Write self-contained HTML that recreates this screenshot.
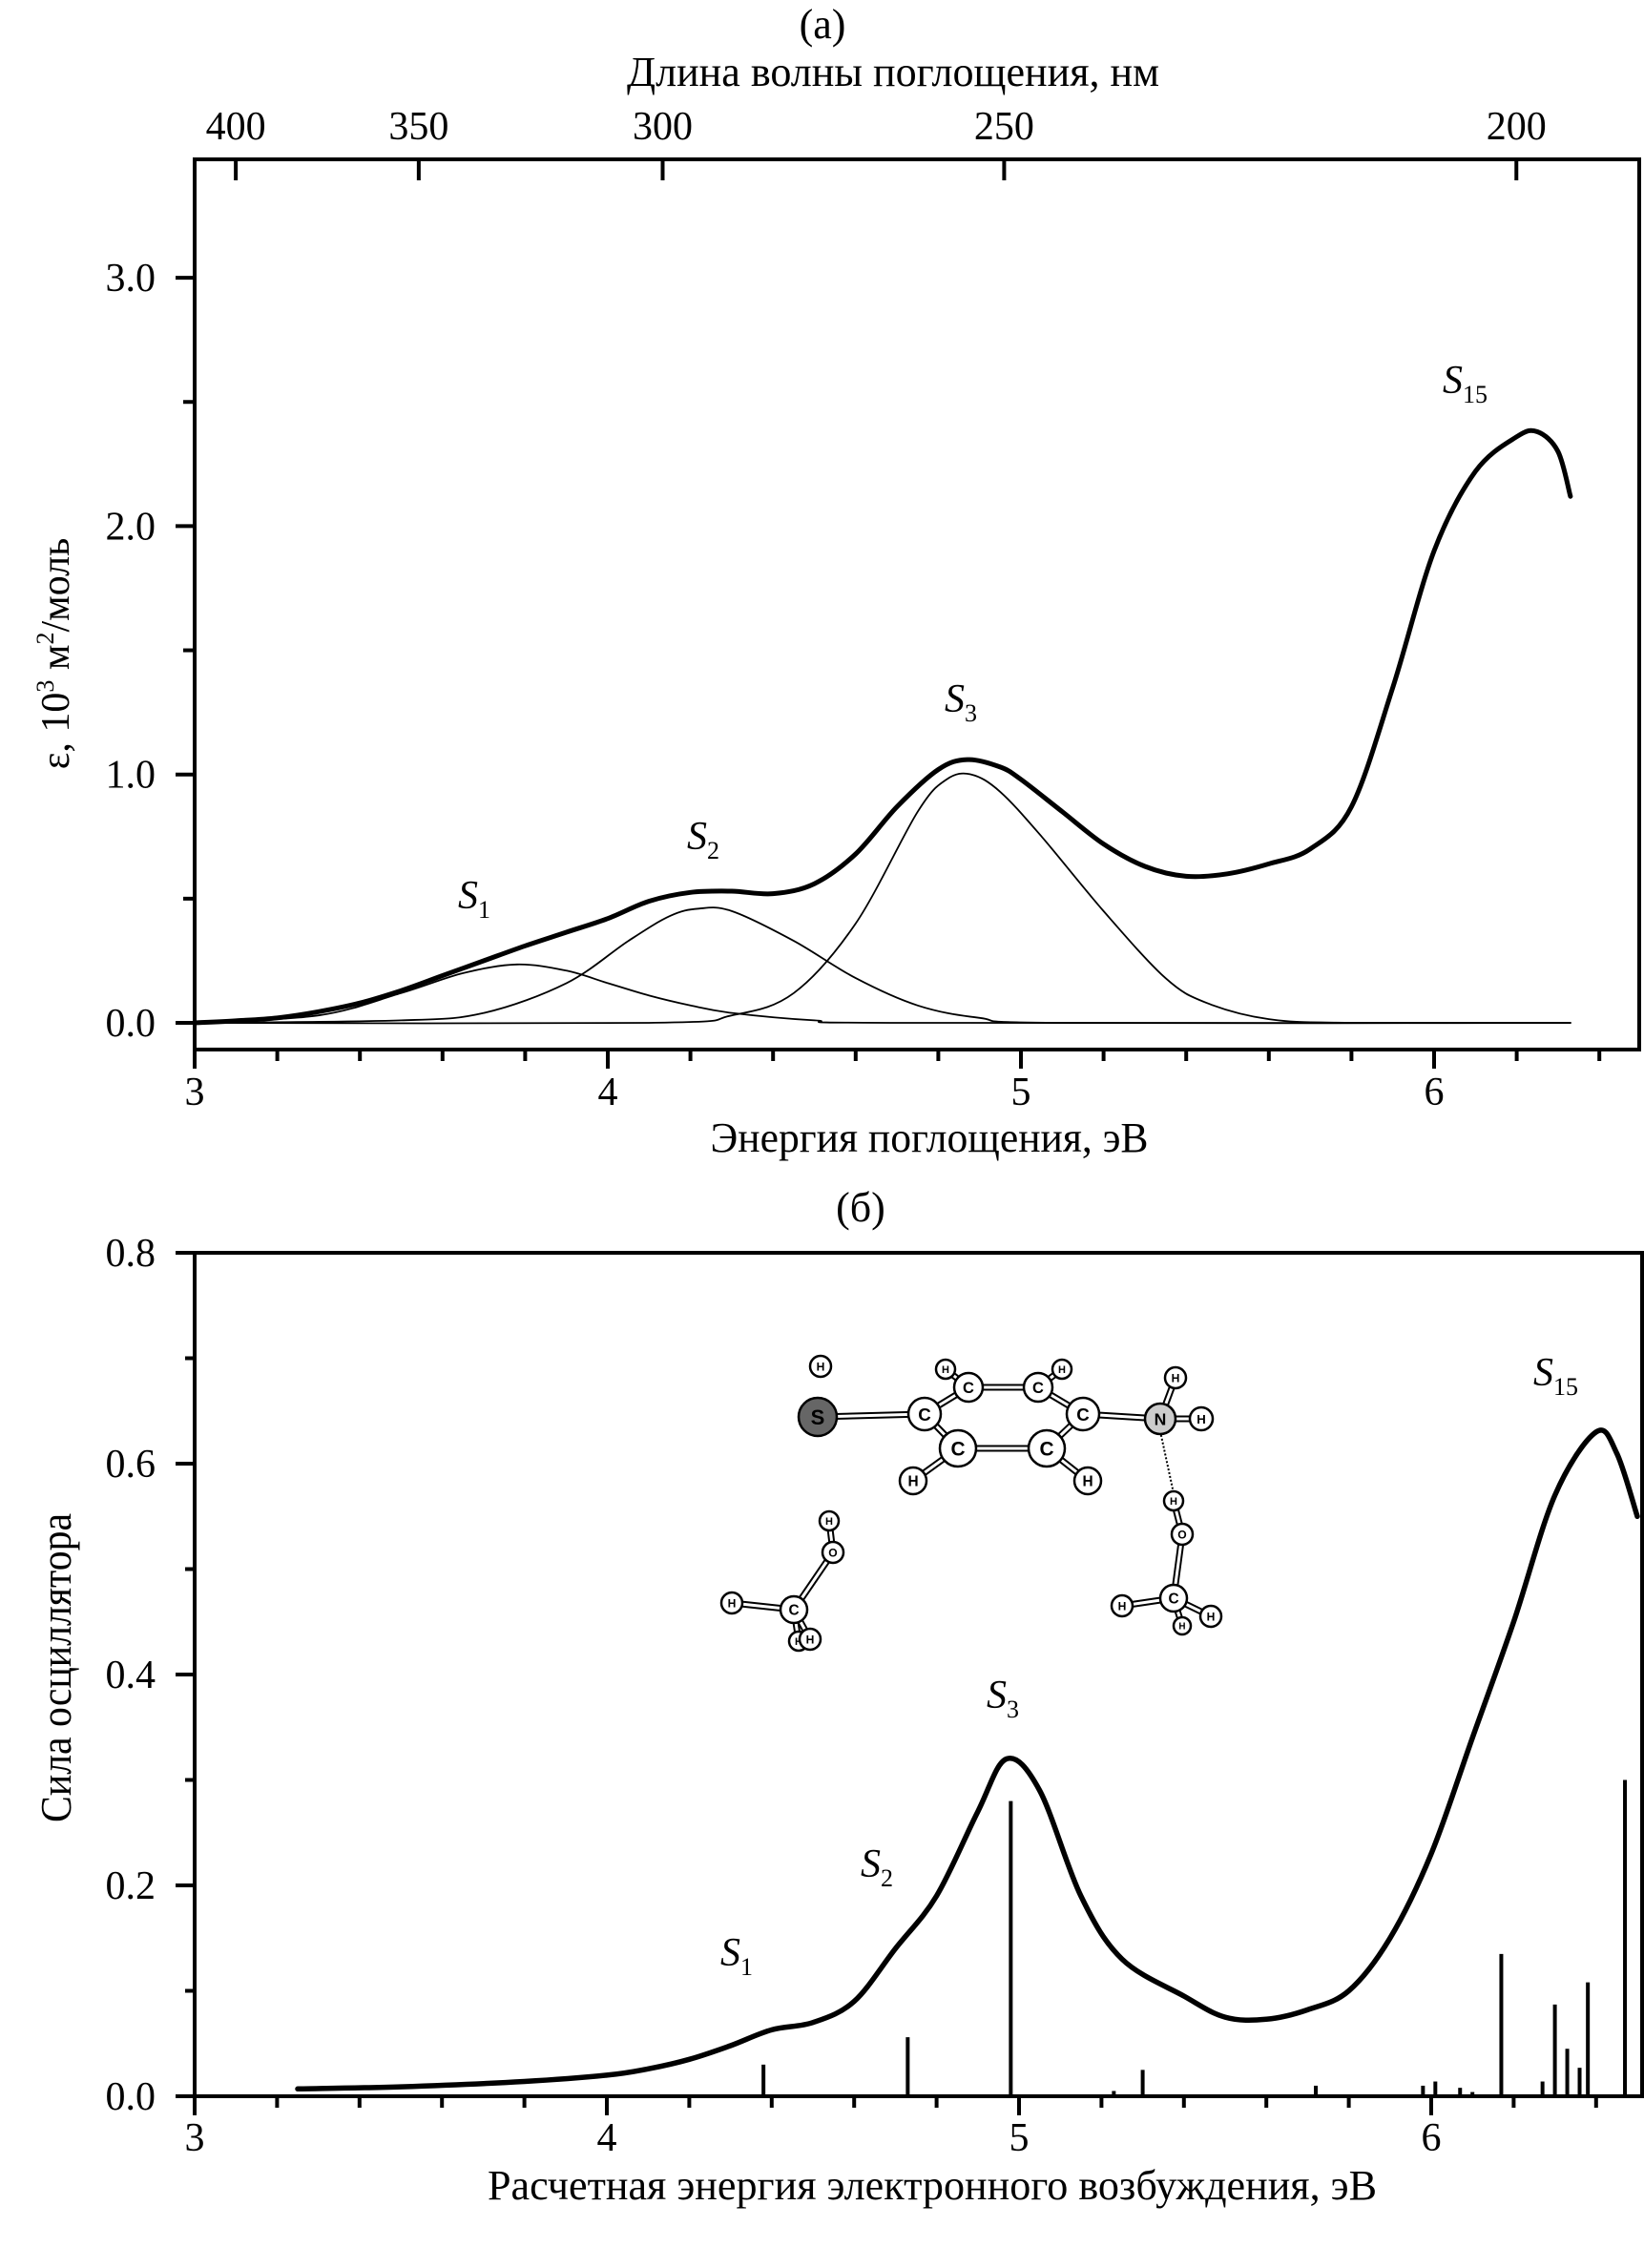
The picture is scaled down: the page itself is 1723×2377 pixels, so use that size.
<!DOCTYPE html>
<html><head><meta charset="utf-8">
<style>
html,body{margin:0;padding:0;background:#fff;}
svg{display:block;font-family:"Liberation Serif",serif;}
</style></head>
<body>
<svg id="fig" width="1723" height="2377" viewBox="0 0 1723 2377" xmlns="http://www.w3.org/2000/svg">
<g id="topChart"></g>
<g id="botChart"></g>
<g id="mol"></g>
</svg>
<script>
// ---- top chart data ----
const topXTicks = [3, 4, 5, 6];
const topYTicks = [0.0, 1.0, 2.0, 3.0];
const topYTickLabels = ["0.0", "1.0", "2.0", "3.0"];
const topWaveTicks = [400, 350, 300, 250, 200];
const totalE = [3.0,3.1,3.2,3.3,3.4,3.5,3.6,3.7,3.8,3.9,4.0,4.1,4.2,4.3,4.4,4.5,4.6,4.7,4.8,4.87,4.95,5.0,5.1,5.2,5.3,5.4,5.5,5.6,5.7,5.8,5.9,6.0,6.1,6.2,6.25,6.3,6.33];
const totalEps = [0.0,0.008,0.02,0.045,0.08,0.13,0.19,0.25,0.31,0.365,0.42,0.49,0.525,0.53,0.52,0.56,0.68,0.87,1.02,1.06,1.03,0.98,0.85,0.72,0.63,0.59,0.60,0.64,0.70,0.87,1.35,1.90,2.22,2.36,2.38,2.30,2.12];
const s1E = [3.0,3.3,3.5,3.65,3.78,3.9,4.0,4.1,4.2,4.3,4.5,4.7,6.33];
const s1Eps = [0,0.03,0.12,0.20,0.235,0.21,0.16,0.11,0.07,0.04,0.01,0,0];
const s2E = [3.0,3.5,3.7,3.9,4.05,4.15,4.22,4.3,4.45,4.6,4.75,4.9,5.1,6.33];
const s2Eps = [0,0.01,0.04,0.16,0.33,0.43,0.46,0.45,0.33,0.18,0.07,0.02,0,0];
const s3E = [3.0,4.1,4.3,4.45,4.6,4.75,4.82,4.88,4.95,5.05,5.2,5.35,5.45,5.6,5.8,6.33];
const s3Eps = [0,0,0.03,0.12,0.40,0.85,0.98,1.0,0.93,0.75,0.45,0.18,0.08,0.015,0,0];
// ---- bottom chart data ----
const botXTicks = [3, 4, 5, 6];
const botYTicks = [0.0, 0.2, 0.4, 0.6, 0.8];
const botYTickLabels = ["0.0", "0.2", "0.4", "0.6", "0.8"];
const specE = [3.25,3.5,3.8,4.0,4.1,4.2,4.3,4.4,4.5,4.6,4.7,4.8,4.9,4.97,5.05,5.15,5.25,5.4,5.5,5.6,5.7,5.8,5.9,6.0,6.1,6.2,6.3,6.4,6.45,6.5];
const specF = [0.007,0.009,0.014,0.02,0.026,0.035,0.048,0.063,0.07,0.09,0.14,0.19,0.27,0.32,0.29,0.19,0.13,0.095,0.075,0.073,0.082,0.10,0.15,0.23,0.34,0.45,0.57,0.63,0.61,0.55];
const stickE = [4.38,4.73,4.98,5.23,5.3,5.72,5.98,6.01,6.07,6.1,6.17,6.27,6.3,6.33,6.36,6.38,6.47];
const stickF = [0.03,0.056,0.28,0.005,0.025,0.01,0.01,0.014,0.008,0.004,0.135,0.014,0.087,0.045,0.027,0.108,0.30];

const NS = "http://www.w3.org/2000/svg";
function mk(parent, tag, attrs, txt){const e=document.createElementNS(NS,tag);for(const k in attrs)e.setAttribute(k,attrs[k]);if(txt!==undefined)e.textContent=txt;parent.appendChild(e);return e;}

const tx = e => 204 + (e-3)*433;
const ty = v => 1072 - v*260.3;
const bx = e => 204 + (e-3)*432;
const by = v => 2197 - v*1105;

const topG = document.getElementById('topChart');
const botG = document.getElementById('botChart');
const FS = 42;

// ---- top frame ----
let fr = mk(topG,'rect',{x:204,y:167,width:1514,height:933,fill:'none',stroke:'#000','stroke-width':4});


for(let e=3;e<=6.41;e+=0.2){
  const major = Math.abs(e-Math.round(e))<1e-6;
  let t=mk(topG,'line',{x1:tx(e),x2:tx(e),y1:1100,y2:1100+(major?20:12),stroke:'#000','stroke-width':4});
  
  
}
topXTicks.forEach(v=>{
  let t=mk(topG,'text',{x:tx(v),y:1158,'font-size':FS,'text-anchor':'middle'},String(v));
  
  
});
for(let v=0;v<=3.01;v+=0.5){
  const major = Math.abs(v-Math.round(v))<1e-6;
  let t=mk(topG,'line',{x1:204-(major?20:12),x2:204,y1:ty(v),y2:ty(v),stroke:'#000','stroke-width':4});
  
  
}
topYTicks.forEach((v,i)=>{
  let t=mk(topG,'text',{x:163,y:ty(v)+14,'font-size':FS,'text-anchor':'end'},topYTickLabels[i]);
  
  
});
topWaveTicks.forEach(w=>{
  const e = 1239.84/w;
  let t=mk(topG,'line',{x1:tx(e),x2:tx(e),y1:167,y2:189,stroke:'#000','stroke-width':4});
  
  
  let l=mk(topG,'text',{x:tx(e),y:146,'font-size':FS,'text-anchor':'middle'},String(w));
  
  
});
function smoothPath(pts){
  let d='M'+pts[0][0].toFixed(1)+','+pts[0][1].toFixed(1);
  for(let i=0;i<pts.length-1;i++){
    const p0=pts[i-1]||pts[i],p1=pts[i],p2=pts[i+1],p3=pts[i+2]||p2;
    const c1x=p1[0]+(p2[0]-p0[0])/6,c1y=p1[1]+(p2[1]-p0[1])/6;
    const c2x=p2[0]-(p3[0]-p1[0])/6,c2y=p2[1]-(p3[1]-p1[1])/6;
    d+=' C'+c1x.toFixed(1)+','+c1y.toFixed(1)+' '+c2x.toFixed(1)+','+c2y.toFixed(1)+' '+p2[0].toFixed(1)+','+p2[1].toFixed(1);
  }
  return d;
}
function poly(parent,xs,ys,fx,fy,w,name){
  const pts=xs.map((x,i)=>[fx(x),fy(ys[i])]);
  const e=mk(parent,'path',{d:smoothPath(pts),fill:'none',stroke:'#000','stroke-width':w,'stroke-linejoin':'round','stroke-linecap':'round'});
  
  
  return e;
}
poly(topG,s1E,s1Eps,tx,ty,1.8,'s1-component-curve');
poly(topG,s2E,s2Eps,tx,ty,1.8,'s2-component-curve');
poly(topG,s3E,s3Eps,tx,ty,1.8,'s3-component-curve');
poly(topG,totalE,totalEps,tx,ty,5,'total-absorption-curve');

// ---- bottom frame ----
fr = mk(botG,'rect',{x:204,y:1313,width:1517,height:884,fill:'none',stroke:'#000','stroke-width':4});


for(let e=3;e<=6.41;e+=0.2){
  const major = Math.abs(e-Math.round(e))<1e-6;
  let t=mk(botG,'line',{x1:bx(e),x2:bx(e),y1:2197,y2:2197+(major?20:12),stroke:'#000','stroke-width':4});
  
  
}
botXTicks.forEach(v=>{
  let t=mk(botG,'text',{x:bx(v),y:2254,'font-size':FS,'text-anchor':'middle'},String(v));
  
  
});
for(let v=0;v<=0.801;v+=0.1){
  const major = Math.round(v*10)%2===0;
  let t=mk(botG,'line',{x1:204-(major?20:10),x2:204,y1:by(v),y2:by(v),stroke:'#000','stroke-width':4});
  
  
}
botYTicks.forEach((v,i)=>{
  let t=mk(botG,'text',{x:163,y:by(v)+14,'font-size':FS,'text-anchor':'end'},botYTickLabels[i]);
  
  
});
stickE.forEach((e,i)=>{
  let s=mk(botG,'line',{x1:bx(e),x2:bx(e),y1:2197,y2:by(stickF[i]),stroke:'#000','stroke-width':4});
  
  
});
poly(botG,specE,specF,bx,by,5.5,'calculated-spectrum-curve');

// ---- text labels ----
function label(parent,x,y,size,txt,name,extra){
  const a=Object.assign({x:x,y:y,'font-size':size,'text-anchor':'middle'},extra||{});
  const t=mk(parent,'text',a,txt);
  
  
  return t;
}
const fig=document.getElementById('fig');
label(fig,862,40,44,'(а)','panel-a-label');
label(fig,936,90,44,'Длина волны поглощения, нм','top-x2-axis-title',{textLength:558,lengthAdjust:'spacingAndGlyphs'});
label(fig,974,1207,44,'Энергия поглощения, эВ','top-x-axis-title',{textLength:459,lengthAdjust:'spacingAndGlyphs'});
label(fig,902,1280,44,'(б)','panel-b-label');
label(fig,977,2305,44,'Расчетная энергия электронного возбуждения, эВ','bottom-x-axis-title',{textLength:932,lengthAdjust:'spacingAndGlyphs'});
let yl=label(fig,0,0,42,'','top-y-axis-title',{transform:'translate(72,685) rotate(-90)'});
yl.innerHTML='ε, 10<tspan font-size="26" dy="-16">3</tspan><tspan dy="16"> м</tspan><tspan font-size="26" dy="-16">2</tspan><tspan dy="16">/моль</tspan>';
label(fig,0,0,46,'Сила осциллятора','bottom-y-axis-title',{transform:'translate(74,1748) rotate(-90)',textLength:324,lengthAdjust:'spacingAndGlyphs'});
function sLabel(x,y,sub,name){
  const t=mk(fig,'text',{x:x,y:y,'font-size':42,'font-style':'italic'});
  t.innerHTML='S<tspan font-size="26" font-style="normal" dy="10">'+sub+'</tspan>';
  
  
}
sLabel(480,952,'1','s1-label-top');
sLabel(720,890,'2','s2-label-top');
sLabel(990,746,'3','s3-label-top');
sLabel(1512,412,'15','s15-label-top');
sLabel(755,2060,'1','s1-label-bottom');
sLabel(902,1967,'2','s2-label-bottom');
sLabel(1034,1790,'3','s3-label-bottom');
sLabel(1607,1452,'15','s15-label-bottom');

// ---- molecule ----
const molG=document.getElementById('mol');
const atoms={
 S:[857,1485,20,'S','#666'],H0:[860,1432,11,'H','#fff'],
 C1:[969,1482,17,'C','#fff'],C2:[1015,1454,15,'C','#fff'],C3:[1088,1454,15,'C','#fff'],C4:[1135,1482,17,'C','#fff'],
 C5:[1004,1518,19,'C','#fff'],C6:[1097,1518,19,'C','#fff'],
 H2:[991,1435,10,'H','#fff'],H3:[1113,1435,10,'H','#fff'],
 N:[1216,1487,16,'N','#ccc'],HN1:[1232,1444,11,'H','#fff'],HN2:[1259,1487,12,'H','#fff'],
 H5:[957,1552,14,'H','#fff'],H6:[1140,1552,14,'H','#fff'],
 LH1:[869,1594,10,'H','#fff'],LO:[873,1627,11,'O','#fff'],LC:[832,1687,14,'C','#fff'],LH2:[767,1680,11,'H','#fff'],LH3:[837,1720,10,'H','#fff'],LH4:[849,1718,11,'H','#fff'],
 RH1:[1230,1573,10,'H','#fff'],RO:[1239,1608,11,'O','#fff'],RC:[1230,1675,14,'C','#fff'],RH2:[1176,1683,11,'H','#fff'],RH3:[1269,1694,11,'H','#fff'],RH4:[1239,1704,9,'H','#fff']
};
const bonds=[['S','C1'],['C1','C2'],['C2','C3'],['C3','C4'],['C4','C6'],['C6','C5'],['C5','C1'],['C2','H2'],['C3','H3'],['C5','H5'],['C6','H6'],['C4','N'],['N','HN1'],['N','HN2'],
 ['LH1','LO'],['LO','LC'],['LC','LH2'],['LC','LH3'],['LC','LH4'],['RH1','RO'],['RO','RC'],['RC','RH2'],['RC','RH3'],['RC','RH4']];
bonds.forEach(b=>{
  const a=atoms[b[0]],c=atoms[b[1]];
  let l=mk(molG,'line',{x1:a[0],y1:a[1],x2:c[0],y2:c[1],stroke:'#000','stroke-width':7});
  
  
  let w=mk(molG,'line',{x1:a[0],y1:a[1],x2:c[0],y2:c[1],stroke:'#fff','stroke-width':3});
  
  
});
let hb=mk(molG,'line',{x1:1216,y1:1500,x2:1230,y2:1565,stroke:'#000','stroke-width':2,'stroke-dasharray':'2,2'});


for(const k in atoms){
  const a=atoms[k];
  let c=mk(molG,'circle',{cx:a[0],cy:a[1],r:a[2],fill:a[4],stroke:'#000','stroke-width':2.5});
  
  
  let t=mk(molG,'text',{x:a[0],y:a[1]+a[2]*0.4,'font-size':a[2]*1.1,'font-weight':'bold','text-anchor':'middle','font-family':'Liberation Sans, sans-serif'},a[3]);
  
  
}
</script>
</body></html>
